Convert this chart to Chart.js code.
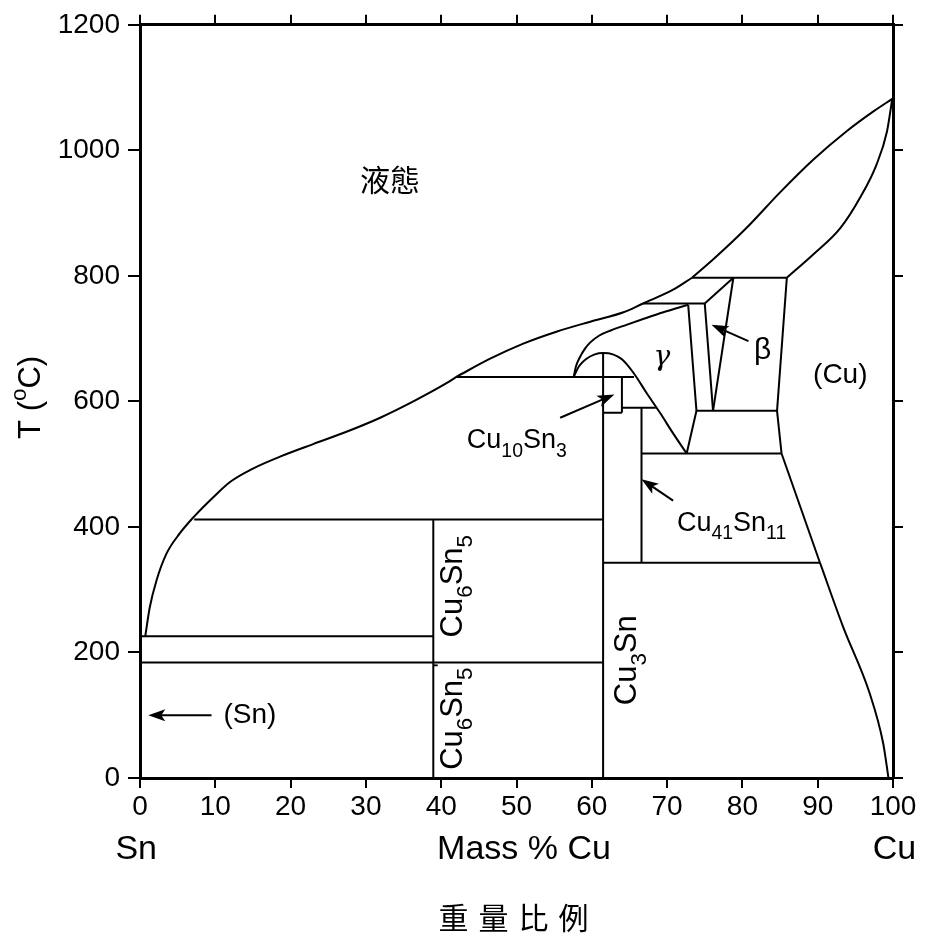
<!DOCTYPE html>
<html>
<head>
<meta charset="utf-8">
<script src="https://cdn.jsdelivr.net/npm/chart.js@4.4.0/dist/chart.umd.min.js"></script>
<style>
  body { margin: 0; background: #fff; }
  #wrap { width: 928px; height: 944px; }
</style>
</head>
<body>
<div id="wrap"><canvas id="phase"></canvas></div>
<script>
// Cu-Sn phase diagram (x = mass % Cu, y = T in C)

// liquidus, split at the kinks
var liqAX = [0.7, 1.3, 2.2, 3.5, 5.3, 7.3, 9.7, 12.0, 15.0, 18.6, 23.0, 27.5, 31.9, 36.3, 40.7, 42.0]
var liqAT = [226, 272, 315, 357, 390, 418, 447, 472, 493, 512, 532, 552, 574, 600, 629, 639]
var liqBX = [42.0, 46.5, 50.9, 55.3, 59.8, 64.2, 66.8]
var liqBT = [639, 668, 692, 711, 727, 742, 756]
var liqCX = [66.8, 70.8, 73.3]
var liqCT = [756, 778, 797]
var liqDX = [73.3, 76.1, 80.6, 85.0, 89.4, 93.8, 97.4, 99.9]
var liqDT = [797, 826, 877, 933, 985, 1030, 1062, 1082]

// (Cu) solidus
var solX = [85.9, 89.4, 93.0, 95.6, 97.8, 99.2, 99.9]
var solT = [797, 834, 876, 924, 977, 1030, 1082]

// gamma dome (eps / gamma boundary)
var domeX = [57.6, 58.3, 59.3, 60.4, 61.5, 62.8, 64.0, 65.5, 67.3, 69.1, 70.8, 72.6]
var domeT = [639, 656, 668, 675, 677, 675, 667, 646, 613, 581, 549, 517]

// gamma solidus arc
var arcX = [57.6, 57.9, 58.4, 59.1, 59.8, 61.0, 62.5, 64.6, 67.0, 69.5, 72.8]
var arcT = [639, 656, 670, 684, 694, 705, 713, 722, 732, 742, 754]

// (Cu) solvus, lower curved part
var solvX = [90.3, 93.4, 96.9, 98.7, 99.4]
var solvT = [343, 240, 135, 55, 0]

// straight segments [x1, T1, x2, T2]
var segments = [
  [0, 226, 38.95, 226],
  [0, 184, 61.5, 184],
  [7.2, 412, 61.5, 412],
  [42.0, 639, 65.6, 639],
  [61.5, 582, 64.0, 582],
  [64.0, 590, 68.5, 590],
  [66.6, 517, 85.2, 517],
  [73.9, 585, 84.6, 585],
  [61.5, 343, 90.3, 343],
  [66.8, 756, 75.0, 756],
  [73.3, 797, 85.9, 797],
  [38.95, 0, 38.95, 412],
  [61.5, 0, 61.5, 677],
  [64.0, 582, 64.0, 639],
  [66.6, 343, 66.6, 590],
  [72.8, 754, 73.9, 585],
  [75.0, 756, 76.1, 585],
  [78.8, 797, 76.1, 585],
  [75.0, 756, 78.8, 797],
  [72.6, 517, 73.9, 585],
  [85.9, 797, 84.6, 585],
  [84.6, 585, 85.2, 517],
  [85.2, 517, 90.3, 343]
]

// arrows [fromX, fromT, toX, toT]
var arrows = [
  [55.8, 574, 63.0, 611],
  [80.8, 696, 75.9, 722],
  [70.8, 442, 66.6, 476],
  [9.5, 100, 1.1, 100]
]

// plain labels
var plainText = ['液態', 'γ', 'β', '(Cu)', '(Sn)']
var plainX = [33.2, 69.3, 82.7, 93.0, 14.6]
var plainT = [954, 669, 680, 641, 100]

// compound labels with subscripts
var compText = [
  [['Cu', 0], ['10', 1], ['Sn', 0], ['3', 1]],
  [['Cu', 0], ['41', 1], ['Sn', 0], ['11', 1]],
  [['Cu', 0], ['6', 1], ['Sn', 0], ['5', 1]],
  [['Cu', 0], ['6', 1], ['Sn', 0], ['5', 1], ["'", 2]],
  [['Cu', 0], ['3', 1], ['Sn', 0]]
]
var compX = [43.4, 71.3, 42.8, 42.8, 65.9]
var compT = [525, 394, 224, 13, 116]
var compRot = [false, false, true, true, true]

var xTitle = 'Mass % Cu'
var leftEnd = 'Sn'
var rightEnd = 'Cu'
var cnTitle = '重量比例'

function pts(xs, ts) {
  return xs.map(function (x, i) { return { x: x, y: ts[i] } })
}

function curve(xs, ts) {
  return { data: pts(xs, ts), showLine: true, pointRadius: 0, borderColor: '#000', borderWidth: 2,
    cubicInterpolationMode: 'monotone', tension: 0.4 }
}

var datasets = [
  curve(liqAX, liqAT), curve(liqBX, liqBT), curve(liqCX, liqCT), curve(liqDX, liqDT),
  curve(solX, solT), curve(domeX, domeT), curve(arcX, arcT), curve(solvX, solvT)
]
segments.forEach(function (s) {
  datasets.push({ data: [{ x: s[0], y: s[1] }, { x: s[2], y: s[3] }], showLine: true, pointRadius: 0,
    borderColor: '#000', borderWidth: 2, tension: 0 })
})

function drawRich(ctx, parts, size) {
  var cx = 0
  parts.forEach(function (p) {
    var fs = p[1] === 0 ? size : size * 0.72
    var dy = p[1] === 1 ? size * 0.3 : (p[1] === 2 ? -size * 0.45 : 0)
    ctx.font = fs + 'px "Liberation Sans"'
    ctx.fillText(p[0], cx, dy)
    cx += ctx.measureText(p[0]).width
  })
  return cx
}

function richWidth(ctx, parts, size) {
  var w = 0
  parts.forEach(function (p) {
    ctx.font = (p[1] === 0 ? size : size * 0.72) + 'px "Liberation Sans"'
    w += ctx.measureText(p[0]).width
  })
  return w
}

var textPlugin = {
  id: 'texts',
  afterDraw: function (chart) {
    var ctx = chart.ctx
    var sx = chart.scales.x, sy = chart.scales.y
    var area = chart.chartArea
    ctx.save()
    ctx.fillStyle = '#000'
    ctx.strokeStyle = '#000'

    // arrows
    arrows.forEach(function (a) {
      var x1 = sx.getPixelForValue(a[0]), y1 = sy.getPixelForValue(a[1])
      var x2 = sx.getPixelForValue(a[2]), y2 = sy.getPixelForValue(a[3])
      var ang = Math.atan2(y2 - y1, x2 - x1)
      ctx.lineWidth = 2
      ctx.beginPath()
      ctx.moveTo(x1, y1)
      ctx.lineTo(x2 - 10 * Math.cos(ang), y2 - 10 * Math.sin(ang))
      ctx.stroke()
      ctx.beginPath()
      ctx.moveTo(x2, y2)
      ctx.lineTo(x2 - 17 * Math.cos(ang) + 6 * Math.sin(ang), y2 - 17 * Math.sin(ang) - 6 * Math.cos(ang))
      ctx.lineTo(x2 - 13 * Math.cos(ang), y2 - 13 * Math.sin(ang))
      ctx.lineTo(x2 - 17 * Math.cos(ang) - 6 * Math.sin(ang), y2 - 17 * Math.sin(ang) + 6 * Math.cos(ang))
      ctx.closePath()
      ctx.fill()
    })

    // plain labels
    ctx.textAlign = 'center'
    ctx.textBaseline = 'middle'
    plainText.forEach(function (t, i) {
      var f = '28px "Liberation Sans"'
      if (t === '液態') f = '30px "Noto Sans CJK TC"'
      if (t === 'γ') f = 'italic 28px "DejaVu Serif"'
      if (t === 'β') f = '30px "Liberation Sans"'
      ctx.font = f
      ctx.fillText(t, sx.getPixelForValue(plainX[i]), sy.getPixelForValue(plainT[i]))
    })

    // compound labels
    ctx.textAlign = 'left'
    ctx.textBaseline = 'alphabetic'
    compText.forEach(function (parts, i) {
      ctx.save()
      ctx.translate(sx.getPixelForValue(compX[i]), sy.getPixelForValue(compT[i]))
      if (compRot[i]) ctx.rotate(-Math.PI / 2)
      drawRich(ctx, parts, compRot[i] ? 31 : 27)
      ctx.restore()
    })

    // y axis title T (oC)
    var tparts = [['T (', 0], ['o', 2], ['C)', 0]]
    ctx.save()
    ctx.translate(40, (area.top + area.bottom) / 2 - 4)
    ctx.rotate(-Math.PI / 2)
    var tw = richWidth(ctx, tparts, 31)
    ctx.translate(-tw / 2, 0)
    drawRich(ctx, tparts, 31)
    ctx.restore()

    // bottom titles
    ctx.textBaseline = 'middle'
    ctx.textAlign = 'center'
    ctx.font = '34px "Liberation Sans"'
    var by = area.bottom + 72
    ctx.fillText(leftEnd, sx.getPixelForValue(-0.5), by)
    ctx.fillText(xTitle, sx.getPixelForValue(51), by)
    ctx.fillText(rightEnd, sx.getPixelForValue(100.2), by)
    ctx.font = '30px "Noto Sans CJK TC"'
    ctx.letterSpacing = '10px'
    var cw = ctx.measureText(cnTitle).width
    ctx.textAlign = 'left'
    ctx.fillText(cnTitle, sx.getPixelForValue(49.6) - (cw - 10) / 2, area.bottom + 140)
    ctx.restore()
  }
}

function axis(pos, min, max, step, labels, fitSize, tl) {
  return {
    type: 'linear', position: pos, min: min, max: max, display: true,
    ticks: {
      stepSize: step, color: '#000', padding: pos === 'left' ? 8 : 2,
      font: { family: 'Liberation Sans', size: 28 },
      callback: function (v) { return labels ? v : '' }
    },
    grid: { drawOnChartArea: false, drawTicks: true, tickLength: tl, color: '#000', lineWidth: 2 },
    border: { display: true, color: '#000', width: 3 },
    afterFit: function (s) {
      if (pos === 'left' || pos === 'right') s.width = fitSize
      else s.height = fitSize
    }
  }
}

new Chart(document.getElementById('phase'), {
  type: 'scatter',
  data: { datasets: datasets },
  options: {
    responsive: true,
    maintainAspectRatio: false,
    animation: false,
    layout: { padding: 0 },
    plugins: { legend: { display: false }, tooltip: { enabled: false } },
    scales: {
      x: axis('bottom', 0, 100, 10, true, 166, 10),
      x2: axis('top', 0, 100, 10, false, 22, 10),
      y: axis('left', 0, 1200, 200, true, 140, 12),
      y2: axis('right', 0, 1200, 200, false, 35, 10)
    }
  },
  plugins: [textPlugin]
})
</script>
</body>
</html>
